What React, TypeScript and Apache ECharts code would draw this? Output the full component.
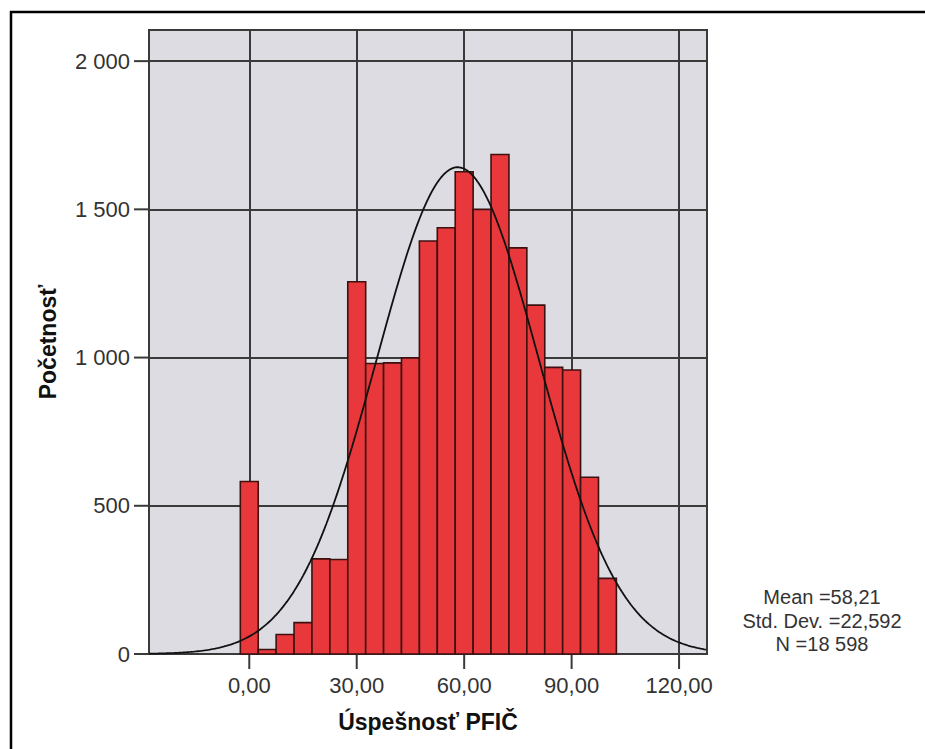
import React, { useEffect, useRef } from "react";
import * as echarts from "echarts";

// Histogram bins (centres) and counts
const binCenters = [0, 5, 10, 15, 20, 25, 30, 35, 40, 45, 50, 55, 60, 65, 70, 75, 80, 85, 90, 95, 100];
const binCounts = [582, 15, 66, 106, 321, 319, 1256, 980, 982, 999, 1393, 1438, 1627, 1500, 1685, 1370, 1177, 967, 958, 596, 255];
const BIN_WIDTH = 5;

// Tick values
const xTicks = [0, 30, 60, 90, 120];
const yTicks = [0, 500, 1000, 1500, 2000];

// Summary statistics shown on the chart (used for the normal curve overlay)
const MEAN = 58.21;
const STD_DEV = 22.592;
const N_TOTAL = 18598;
const statsLines = ["Mean =58,21", "Std. Dev. =22,592", "N =18 598"];

const X_MIN = -28;
const X_MAX = 127.8;
const Y_MAX = 2105;

const FONT = "'Liberation Sans', Arial, sans-serif";

function normalCurve(): number[][] {
  const pts: number[][] = [];
  const k = (N_TOTAL * BIN_WIDTH) / (STD_DEV * Math.sqrt(2 * Math.PI));
  for (let x = X_MIN; x <= X_MAX + 1e-9; x += 0.5) {
    const z = (x - MEAN) / STD_DEV;
    pts.push([x, k * Math.exp(-0.5 * z * z)]);
  }
  return pts;
}

export default function App() {
  const ref = useRef<HTMLDivElement>(null);
  useEffect(() => {
    if (!ref.current) return;
    const chart = echarts.init(ref.current, null, { renderer: "svg" });
    const gridColor = "#3a3a3a";
    const TICK_LEN = 15;
    chart.setOption({
      animation: false,
      grid: {
        left: 149,
        right: 218,
        top: 30,
        bottom: 95,
        show: true,
        backgroundColor: "#dcdce2",
        borderColor: gridColor,
        borderWidth: 2,
      },
      xAxis: {
        type: "value",
        min: X_MIN,
        max: X_MAX,
        name: "Úspešnosť PFIČ",
        nameLocation: "middle",
        nameGap: 56,
        nameTextStyle: { fontFamily: FONT, fontWeight: "bold", fontSize: 23, color: "#111" },
        axisLine: { show: true, onZero: false, lineStyle: { color: gridColor, width: 2 } },
        axisTick: { show: false, customValues: xTicks },
        axisLabel: {
          customValues: xTicks,
          margin: 20,
          fontFamily: FONT,
          fontSize: 22,
          color: "#333",
          formatter: (v: number) => v.toFixed(2).replace(".", ","),
        },
        splitLine: { show: true, lineStyle: { color: gridColor, width: 2 } },
      },
      yAxis: {
        type: "value",
        min: 0,
        max: Y_MAX,
        name: "Početnosť",
        nameLocation: "middle",
        nameGap: 90,
        nameTextStyle: { fontFamily: FONT, fontWeight: "bold", fontSize: 23, color: "#111" },
        axisLine: { show: true, lineStyle: { color: gridColor, width: 2 } },
        axisTick: { show: false, customValues: yTicks },
        axisLabel: {
          customValues: yTicks,
          margin: 19,
          fontFamily: FONT,
          fontSize: 22,
          color: "#333",
          formatter: (v: number) => String(v).replace(/\B(?=(\d{3})+(?!\d))/g, " "),
        },
        splitLine: { show: true, lineStyle: { color: gridColor, width: 2 } },
      },
      series: [
        {
          // outside tick marks, placed through the axes' scales
          type: "custom",
          z: 1,
          clip: false,
          silent: true,
          encode: { x: 0, y: 1 },
          data: [
            ...xTicks.map((v) => [v, 0, 0]),
            ...yTicks.map((v) => [X_MIN, v, 1]),
          ],
          renderItem: (params: any, api: any) => {
            const p = api.coord([api.value(0), api.value(1)]);
            const isY = api.value(2) === 1;
            return {
              type: "line",
              shape: isY
                ? { x1: p[0] - TICK_LEN, y1: p[1], x2: p[0], y2: p[1] }
                : { x1: p[0], y1: p[1], x2: p[0], y2: p[1] + TICK_LEN },
              style: { stroke: gridColor, lineWidth: 2 },
            };
          },
        },
        {
          type: "custom",
          z: 2,
          encode: { x: 0, y: 1 },
          data: binCenters.map((c, i) => [c, binCounts[i]]),
          renderItem: (params: any, api: any) => {
            const c = api.value(0);
            const v = api.value(1);
            const p0 = api.coord([c - BIN_WIDTH / 2, v]);
            const p1 = api.coord([c + BIN_WIDTH / 2, 0]);
            return {
              type: "rect",
              shape: { x: p0[0], y: p0[1], width: p1[0] - p0[0], height: p1[1] - p0[1] },
              style: { fill: "#e8383c", stroke: "#3e1010", lineWidth: 1.6 },
            };
          },
        },
        {
          type: "line",
          z: 3,
          data: normalCurve(),
          showSymbol: false,
          symbol: "none",
          smooth: false,
          clip: true,
          lineStyle: { color: "#111", width: 1.8 },
        },
      ],
      graphic: [
        { type: "line", shape: { x1: 10, y1: 12, x2: 925, y2: 12 }, style: { stroke: "#000", lineWidth: 2.5 } },
        { type: "line", shape: { x1: 11, y1: 11, x2: 11, y2: 749 }, style: { stroke: "#000", lineWidth: 2.5 } },
        ...statsLines.map((t, i) => ({
          type: "text",
          x: 822,
          y: 597 + i * 23.5,
          style: {
            text: t,
            fontFamily: FONT,
            fontSize: 20,
            lineHeight: 20,
            fill: "#333",
            textAlign: "center",
            textVerticalAlign: "middle",
          },
        })),
      ],
    });
    return () => chart.dispose();
  }, []);
  return (
    <div
      ref={ref}
      style={{ position: "absolute", left: 0, top: 0, width: 925, height: 749, background: "#fff" }}
    />
  );
}
